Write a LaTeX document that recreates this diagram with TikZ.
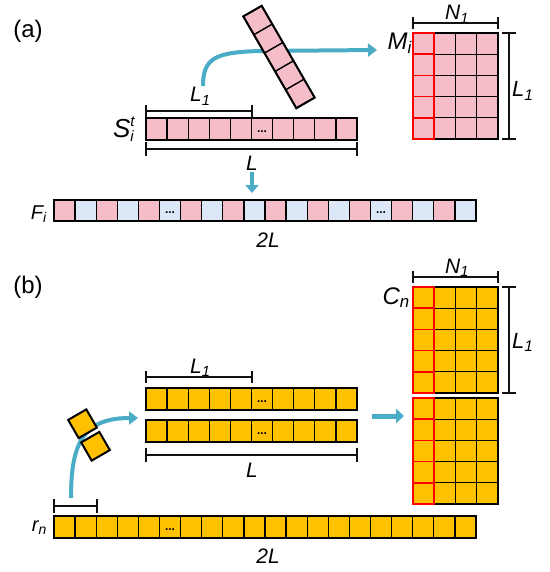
\documentclass[tikz,border=0pt]{standalone}
\usepackage{fontspec}
\setmainfont{Liberation Sans}
\usetikzlibrary{arrows.meta}
\definecolor{pinkc}{HTML}{F5BDC7}
\definecolor{lblue}{HTML}{DCE8F8}
\definecolor{yel}{HTML}{FFC000}
\definecolor{arrblue}{HTML}{4BACC6}
\definecolor{brk}{HTML}{111111}
\tikzset{
  cellbox/.style={draw=black, line width=1.3pt},
  rowframe/.style={draw=black, line width=2pt},
  redcell/.style={draw=red, line width=1.6pt},
  bracket/.style={draw=brk, line width=2.4pt},
  flow/.style={draw=arrblue, line width=4pt, -{Triangle[width=13pt,length=9pt]}},
  lbl/.style={font=\fontsize{21}{21}\selectfont\itshape, inner sep=0pt},
  panel/.style={font=\fontsize{24}{24}\selectfont, inner sep=0pt},
  dotsnode/.style={font=\fontsize{12}{12}\selectfont\bfseries, inner sep=0pt},
}
\newcommand{\hbr}[4]{\draw[bracket] (#1,#3) -- (#2,#3) (#1,#3-#4) -- (#1,#3+#4) (#2,#3-#4) -- (#2,#3+#4);}
\newcommand{\vbr}[4]{\draw[bracket] (#3,#1) -- (#3,#2) (#3-#4,#1) -- (#3+#4,#1) (#3-#4,#2) -- (#3+#4,#2);}
\newcommand{\sub}[2]{#1\textsubscript{#2}}
\begin{document}
\begin{tikzpicture}[x=1pt,y=-1pt]
\useasboundingbox (0,0) rectangle (549,572);
% ---------------- panel (a) ----------------
\node[panel] (pa) at (28,31) {(a)};
% arrow S -> M
\coordinate (a1) at (203,86);
\coordinate (a2) at (377,50);
\draw[flow] (a1) .. controls (203,58) and (215,52) .. (262,51) -- (a2);
% tilted column
\begin{scope}[shift={(279,57)}, rotate=30]
  \foreach \k in {0,...,4} \draw[cellbox, fill=pinkc] (-10.6,{-53+\k*21.2}) rectangle ++(21.2,21.2);
  \draw[rowframe] (-10.6,-53) rectangle (10.6,53);
\end{scope}
% S row
\foreach \i in {0,...,9} \draw[cellbox, fill=pinkc] ({146+\i*21.1},118) rectangle ++(21.1,22);
\draw[rowframe] (146,118) rectangle (357,140);
\node[dotsnode] (sdots) at ({146+5.5*21.1},132) {...};
\hbr{146}{252}{111}{6}
\hbr{146}{357}{149}{7}
\node[lbl, anchor=base west] (L1a) at (190,102) {\sub{L}{1}};
\node[lbl, anchor=base] (La) at (252,171) {L};
\node[lbl, font=\fontsize{26}{26}\selectfont\itshape, anchor=base east] (Sa) at (134,138)
  {S\rlap{\raisebox{11pt}{\fontsize{15}{15}\selectfont t}}\raisebox{-4pt}{\fontsize{15}{15}\selectfont i}};
% matrix M
\foreach \c in {0,...,3} \foreach \r in {0,...,4}
  \draw[cellbox, fill=pinkc] ({413+\c*21.2},{33+\r*21.2}) rectangle ++(21.2,21.2);
\draw[rowframe] (413,33) rectangle (497.8,139);
\foreach \r in {0,...,4} \draw[redcell] (413,{33+\r*21.2}) rectangle ++(21.2,21.2);
\draw[red, line width=2pt] (413,33) rectangle (434.2,139);
\hbr{413}{498}{23}{6}
\vbr{33}{139}{509}{7}
\node[lbl, anchor=base] (N1a) at (457,20) {\sub{N}{1}};
\node[lbl, font=\fontsize{24}{24}\selectfont\itshape, anchor=base east] (Ma) at (412,50) {\sub{M}{i}};
\node[lbl, font=\fontsize{22}{22}\selectfont\itshape, anchor=base west] (L1va) at (512,97) {\sub{L}{1}};
% down arrow
\coordinate (d1) at (252,172);
\coordinate (d2) at (252,193);
\draw[draw=arrblue, line width=4.5pt, -{Triangle[width=13pt,length=8pt]}] (d1) -- (d2);
% F row
\foreach \i in {0,2,...,18} \draw[cellbox, fill=pinkc] ({54+\i*21.1},200) rectangle ++(21.1,21);
\foreach \i in {1,3,...,19} \draw[cellbox, fill=lblue] ({54+\i*21.1},200) rectangle ++(21.1,21);
\draw[rowframe] (54,200) rectangle (476,221);
\node[dotsnode] (fd1) at ({54+5.5*21.1},213) {...};
\node[dotsnode] (fd2) at ({54+15.5*21.1},213) {...};
\node[lbl, font=\fontsize{20}{20}\selectfont\itshape, anchor=base east] (Fa) at (47,219) {\sub{F}{i}};
\node[lbl, anchor=base] (twoLa) at (268,247) {2L};
% ---------------- panel (b) ----------------
\node[panel] (pb) at (28,287) {(b)};
% curve r -> rows
\coordinate (b1) at (71,498);
\coordinate (b2) at (138,418);
\draw[flow] (b1) .. controls (71,445) and (82,418) .. (b2);
\begin{scope}[shift={(89,435)}, rotate=30]
  \draw[rowframe, fill=yel] (-10.5,-23.5) rectangle (10.5,-2.5);
  \draw[rowframe, fill=yel] (-10.5,2.5) rectangle (10.5,23.5);
\end{scope}
% two rows
\foreach \y in {388,420} {
  \foreach \i in {0,...,9} \draw[cellbox, fill=yel] ({146+\i*21.1},\y) rectangle ++(21.1,22);
  \draw[rowframe] (146,\y) rectangle (357,\y+22);
}
\node[dotsnode] (bd1) at ({146+5.5*21.1},402) {...};
\node[dotsnode] (bd2) at ({146+5.5*21.1},434) {...};
\hbr{146}{252}{377}{6}
\hbr{146}{357}{455}{7}
\node[lbl, anchor=base west] (L1b) at (190,373) {\sub{L}{1}};
\node[lbl, anchor=base] (Lb) at (252,477) {L};
% right arrow
\coordinate (c1) at (372,416);
\coordinate (c2) at (404,416);
\draw[draw=arrblue, line width=5pt, -{Triangle[width=14pt,length=8pt]}] (c1) -- (c2);
% matrices C
\foreach \y in {287,398} {
  \foreach \c in {0,...,3} \foreach \r in {0,...,4}
    \draw[cellbox, fill=yel] ({413+\c*21.2},{\y+\r*21.2}) rectangle ++(21.2,21.2);
  \draw[rowframe] (413,\y) rectangle (497.8,\y+106);
  \foreach \r in {0,...,4} \draw[redcell] (413,{\y+\r*21.2}) rectangle ++(21.2,21.2);
  \draw[red, line width=2pt] (413,\y) rectangle (434.2,\y+106);
}
\hbr{413}{498}{277}{6}
\vbr{287}{393}{509}{7}
\node[lbl, anchor=base] (N1b) at (457,273) {\sub{N}{1}};
\node[lbl, font=\fontsize{24}{24}\selectfont\itshape, anchor=base east] (Cn) at (410,304) {\sub{C}{n}};
\node[lbl, font=\fontsize{22}{22}\selectfont\itshape, anchor=base west] (L1vb) at (512,348) {\sub{L}{1}};
% r row
\hbr{54}{97}{506}{7}
\foreach \i in {0,...,19} \draw[cellbox, fill=yel] ({54+\i*21.1},516) rectangle ++(21.1,21.5);
\draw[rowframe] (54,516) rectangle (476,537.5);
\node[dotsnode] (rd) at ({54+5.5*21.1},530) {...};
\node[lbl, font=\fontsize{20}{20}\selectfont\itshape, anchor=base east] (rn) at (47,531) {\sub{r}{n}};
\node[lbl, anchor=base] (twoLb) at (268,563) {2L};
\end{tikzpicture}
\end{document}
